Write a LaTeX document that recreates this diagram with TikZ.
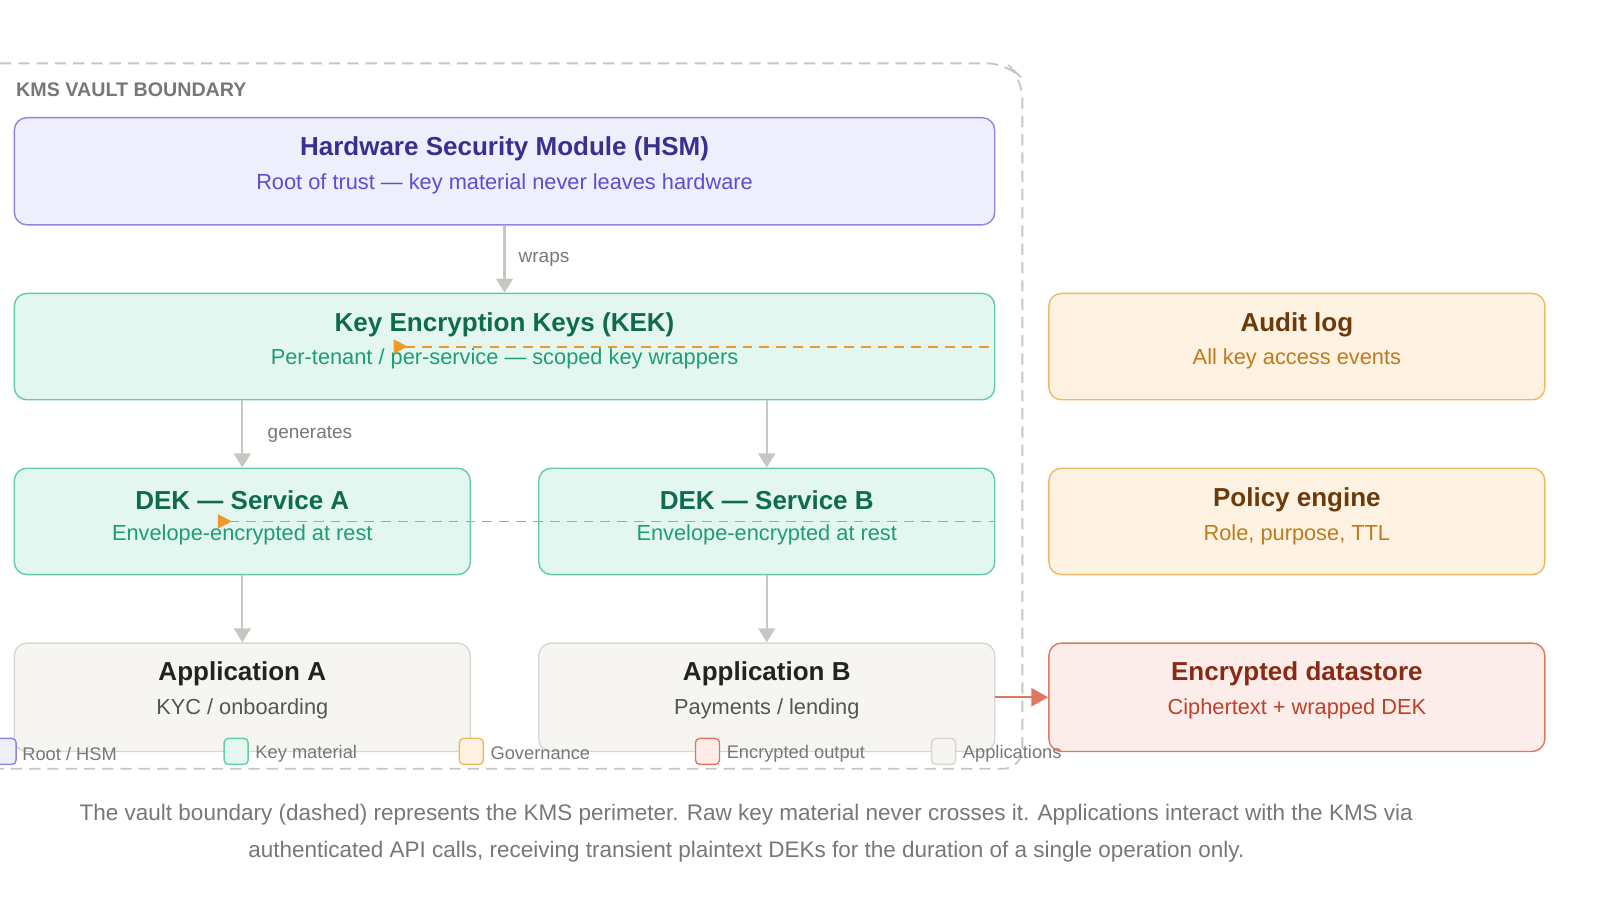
\documentclass[tikz,border=0pt]{standalone}
\usepackage{fontspec}
\setmainfont{Liberation Sans}
\usetikzlibrary{arrows.meta}
\definecolor{hsmF}{HTML}{EEEEFD}\definecolor{hsmD}{HTML}{8E87E2}\definecolor{hsmT}{HTML}{3A2F8F}\definecolor{hsmS}{HTML}{5B4FD0}
\definecolor{kF}{HTML}{E3F7F0}\definecolor{kD}{HTML}{62CCA6}\definecolor{kT}{HTML}{0F6B50}\definecolor{kS}{HTML}{1D9E72}
\definecolor{gF}{HTML}{FEF3E2}\definecolor{gD}{HTML}{F0B860}\definecolor{gT}{HTML}{6B3A0A}\definecolor{gS}{HTML}{C07A1A}
\definecolor{eF}{HTML}{FDEDEA}\definecolor{eD}{HTML}{E07860}\definecolor{eT}{HTML}{8A2A14}\definecolor{eS}{HTML}{C0402A}
\definecolor{aF}{HTML}{F6F5F2}\definecolor{aD}{HTML}{D8D6D0}\definecolor{aT}{HTML}{222222}\definecolor{aS}{HTML}{555555}
\definecolor{conn}{HTML}{C8C6C0}\definecolor{orng}{HTML}{EE9A2A}\definecolor{gry}{HTML}{777777}
\tikzset{
 box/.style={draw=#1D, fill=#1F, rounded corners=9pt, line width=1pt, inner sep=0pt},
 ttl/.style={text=#1T, font=\fontsize{18.5}{20}\selectfont\bfseries},
 sub/.style={text=#1S, font=\fontsize{15.5}{17}\selectfont},
 flow/.style={draw=conn, line width=1.5pt, -{Triangle[length=10pt,width=12pt]}},
 lbl/.style={text=gry, font=\fontsize{13.5}{15}\selectfont},
 gov/.style={draw=orng, dashed, dash pattern=on 7pt off 5pt, line width=1.3pt, {Triangle[reversed,length=10pt,width=10pt]}-},
 leg/.style={draw=#1D, fill=#1F, rounded corners=3pt, minimum width=0.6cm, minimum height=0.65cm, line width=1pt},
 legt/.style={text=gry, font=\fontsize{13}{14}\selectfont, anchor=west},
}
\begin{document}
\begin{tikzpicture}[x=0.02556cm,y=-0.02556cm]
\useasboundingbox (0,0) rectangle (1565,880);
\draw[conn, dashed, dash pattern=on 8pt off 5pt, line width=1.3pt, rounded corners=14pt] (0,62) -- (985,62) -- (1000,77) -- (1000,752) -- (0,752);
\node[anchor=west, text=gry, font=\fontsize{14}{15}\selectfont\bfseries] (vt) at (11,88) {KMS VAULT BOUNDARY};
% boxes
\node[box=hsm, minimum width=24.51cm, minimum height=2.68cm] (hsm) at (493.5,167.5) {};
\node[box=k, minimum width=24.51cm, minimum height=2.66cm] (kek) at (493.5,339) {};
\node[box=k, minimum width=11.4cm, minimum height=2.66cm] (deka) at (237,510) {};
\node[box=k, minimum width=11.4cm, minimum height=2.66cm] (dekb) at (750,510) {};
\node[box=a, minimum width=11.4cm, minimum height=2.71cm] (appa) at (237,682) {};
\node[box=a, minimum width=11.4cm, minimum height=2.71cm] (appb) at (750,682) {};
\node[box=g, minimum width=12.4cm, minimum height=2.66cm] (aud) at (1268.5,339) {};
\node[box=g, minimum width=12.4cm, minimum height=2.66cm] (pol) at (1268.5,510) {};
\node[box=e, minimum width=12.4cm, minimum height=2.71cm] (enc) at (1268.5,682) {};
% texts
\node[ttl=hsm] (t1) at (493.5,146) {Hardware Security Module (HSM)};
\node[sub=hsm] (s1) at (493.5,180) {Root of trust — key material never leaves hardware};
\node[ttl=k] (t2) at (493.5,318) {Key Encryption Keys (KEK)};
\node[sub=k] (s2) at (493.5,351) {Per-tenant / per-service — scoped key wrappers};
\node[ttl=k] (t3) at (237,489) {DEK — Service A};
\node[sub=k] (s3) at (237,523) {Envelope-encrypted at rest};
\node[ttl=k] (t4) at (750,489) {DEK — Service B};
\node[sub=k] (s4) at (750,523) {Envelope-encrypted at rest};
\node[ttl=a] (t5) at (237,659) {Application A};
\node[sub=a] (s5) at (237,693) {KYC / onboarding};
\node[ttl=a] (t6) at (750,659) {Application B};
\node[sub=a] (s6) at (750,693) {Payments / lending};
\node[ttl=g] (t7) at (1268.5,318) {Audit log};
\node[sub=g] (s7) at (1268.5,351) {All key access events};
\node[ttl=g] (t8) at (1268.5,489) {Policy engine};
\node[sub=g] (s8) at (1268.5,523) {Role, purpose, TTL};
\node[ttl=e] (t9) at (1268.5,659) {Encrypted datastore};
\node[sub=e] (s9) at (1268.5,693) {Ciphertext + wrapped DEK};
% connectors
\draw[flow] (hsm.south) -- (kek.north) node[midway, right=6pt, lbl] (w) {wraps};
\draw[flow] (kek.south -| deka.north) -- (deka.north) node[midway, right=14pt, lbl] (g) {generates};
\draw[flow] (kek.south -| dekb.north) -- (dekb.north);
\draw[flow] (deka.south) -- (appa.north);
\draw[flow] (dekb.south) -- (appb.north);
\draw[draw=eD, line width=1.5pt, -{Triangle[length=12pt,width=13pt]}] (appb.east) -- (enc.west);
\coordinate (ka) at (385,339);
\coordinate (da) at (213,510);
\draw[gov] (ka) -- (kek.east);
\draw[gov] (da) -- (dekb.east);
% legend
\node[leg=hsm] (l1) at (4,735) {};
\node[legt] (lt1) at (17,737) {Root / HSM};
\node[leg=k] (l2) at (231,735) {};
\node[legt] (lt2) at (245,737) {Key material};
\node[leg=g] (l3) at (461,735) {};
\node[legt] (lt3) at (475,737) {Governance};
\node[leg=e] (l4) at (692,735) {};
\node[legt] (lt4) at (706,737) {Encrypted output};
\node[leg=a] (l5) at (923,735) {};
\node[legt] (lt5) at (937,737) {Applications};
% caption
\node[text=gry, font=\fontsize{16}{26}\selectfont, align=center] (cap) at (730,815) {The vault boundary (dashed) represents the KMS perimeter. Raw key material never crosses it. Applications interact with the KMS via\\ authenticated API calls, receiving transient plaintext DEKs for the duration of a single operation only.};
\end{tikzpicture}
\end{document}
